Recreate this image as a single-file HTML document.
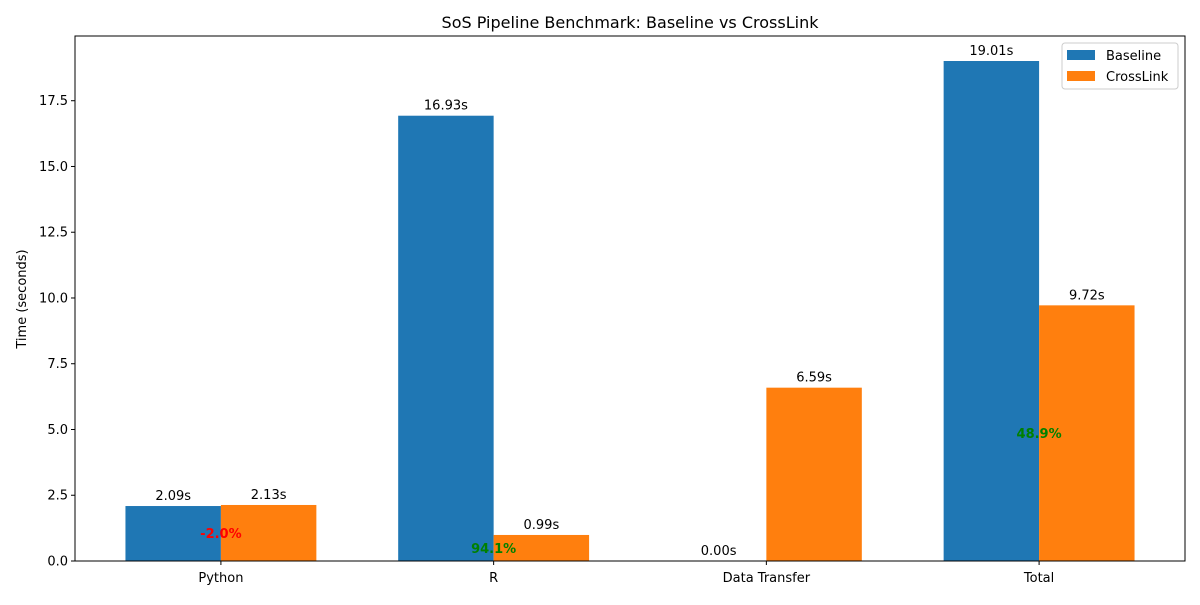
<!DOCTYPE html>
<html><head><meta charset="utf-8"><style>
body{margin:0;background:#fff}
svg{font-family:"DejaVu Sans","Liberation Sans",sans-serif}
</style></head><body>
<svg id="chart" width="1200" height="600" xmlns="http://www.w3.org/2000/svg">
<rect width="1200" height="600" fill="#fff"/>
<text x="630" y="28" font-size="16" text-anchor="middle">SoS Pipeline Benchmark: Baseline vs CrossLink</text>
<text transform="translate(26,299) rotate(-90)" font-size="13" text-anchor="middle">Time (seconds)</text>
<g id="marks"></g>
<rect x="75" y="36" width="1110" height="525" fill="none" stroke="#000" stroke-width="1"/>
<g>
<rect x="1062" y="43" width="116" height="46" fill="#fff" stroke="#ccc" rx="3"/>
<rect x="1067" y="50" width="28" height="10" fill="#1f77b4"/>
<text x="1106" y="60" font-size="13">Baseline</text>
<rect x="1067" y="71" width="28" height="10" fill="#ff7f0e"/>
<text x="1106" y="81" font-size="13">CrossLink</text>
</g>
</svg>
<script>
const categories=["Python","R","Data Transfer","Total"];
const baseline=[2.09,16.93,0.00,19.01];
const crosslink=[2.13,0.99,6.59,9.72];
const improvements=["-2.0%","94.1%",null,"48.9%"];
const yTicks=[0,2.5,5,7.5,10,12.5,15,17.5];
const tickLabels=["0.0","2.5","5.0","7.5","10.0","12.5","15.0","17.5"];

const NS="http://www.w3.org/2000/svg";
const g=document.getElementById("marks");
const L=75,R=1185,T=36,B=561;
const xmin=-0.535,xmax=categories.length-1+0.535;
const ymax=Math.max(...baseline,...crosslink)*1.05;
const xs=v=>L+(v-xmin)/(xmax-xmin)*(R-L);
const ys=v=>B-v/ymax*(B-T);
const w=0.35;
function mk(tag,attrs,txt){const e=document.createElementNS(NS,tag);for(const k in attrs)e.setAttribute(k,attrs[k]);if(txt!=null)e.textContent=txt;g.appendChild(e);return e;}

yTicks.forEach((t,i)=>{
  const y=ys(t);
  const tk=mk("line",{x1:L-4,x2:L,y1:y,y2:y,stroke:"#000"});
  
  
  const lb=mk("text",{x:L-7,y:y+4.5,"font-size":13,"text-anchor":"end"},tickLabels[i]);
  
  
});
categories.forEach((c,i)=>{
  const x=xs(i);
  const tk=mk("line",{x1:x,x2:x,y1:B,y2:B+4,stroke:"#000"});
  
  
  const lb=mk("text",{x:x,y:B+21,"font-size":13,"text-anchor":"middle"},c);
  
  
  [[baseline,"#1f77b4",-w/2,"baseline"],[crosslink,"#ff7f0e",w/2,"crosslink"]].forEach(([arr,col,off,nm])=>{
    const v=arr[i];
    const x0=xs(i+off-w/2),x1=xs(i+off+w/2);
    const r=mk("rect",{x:x0,y:ys(v),width:x1-x0,height:B-ys(v),fill:col});
    
    
    const t=mk("text",{x:(x0+x1)/2,y:ys(v)-6,"font-size":13,"text-anchor":"middle"},v.toFixed(2)+"s");
    
    
  });
  if(improvements[i]){
    const neg=improvements[i].startsWith("-");
    const t=mk("text",{x:x,y:ys(crosslink[i]/2)+5,"font-size":13,"font-weight":"bold","text-anchor":"middle",fill:neg?"#ff0000":"#008000"},improvements[i]);
    
    
  }
});
</script>
</body></html>
